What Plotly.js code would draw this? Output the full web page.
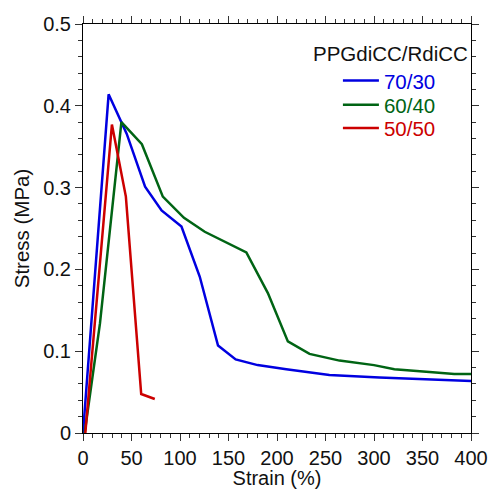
<!DOCTYPE html>
<html>
<head>
<meta charset="utf-8">
<script src="https://cdn.plot.ly/plotly-3.0.1.min.js"></script>
<style>html,body{margin:0;padding:0;background:#fff;}#chart{width:491px;height:489px;}</style>
</head>
<body>
<div id="chart"></div>
<script>
var seriesNames = ["70/30", "60/40", "50/50"];
var seriesColors = ["#0000e0", "#006414", "#cc0000"];
var legendTitle = "PPGdiCC/RdiCC";

var strain7030 = [0, 26.4, 45, 64, 81, 101.5, 120.4, 139.2, 157.4, 180, 209.6, 254, 305.6, 360.4, 401];
var stress7030 = [0, 0.414, 0.366, 0.301, 0.272, 0.2525, 0.191, 0.107, 0.090, 0.083, 0.078, 0.071, 0.068, 0.065, 0.0636];

var strain6040 = [1.7, 17.5, 39.6, 60.7, 82.3, 104.1, 125.5, 168.4, 190.6, 211.2, 233.5, 264.4, 300, 321, 360.4, 382.7, 401];
var stress6040 = [0, 0.134, 0.380, 0.353, 0.289, 0.263, 0.246, 0.2207, 0.171, 0.112, 0.0967, 0.0885, 0.083, 0.078, 0.0743, 0.0722, 0.072];

var strain5050 = [2.4, 29.8, 44.2, 60, 74];
var stress5050 = [0, 0.377, 0.289, 0.0477, 0.0416];

var xs = [strain7030, strain6040, strain5050];
var ys = [stress7030, stress6040, stress5050];
var legendIds = ["legend", "legend2", "legend3"];
var legendY = [0.8614, 0.802, 0.745];

var font = "Liberation Sans, Arial, sans-serif";

var traces = xs.map(function (x, i) {
  return {
    x: x, y: ys[i], type: "scatter", mode: "lines",
    name: '<span style="color:' + seriesColors[i] + '">' + seriesNames[i] + '</span>',
    line: {color: seriesColors[i], width: 2.5},
    legend: legendIds[i]
  };
});

var axisCommon = {
  showgrid: false, zeroline: false, showline: true, linecolor: "#000", linewidth: 1,
  mirror: "allticks", ticks: "outside", ticklen: 7, tickwidth: 1, tickcolor: "#333",
  tickfont: {family: font, size: 20, color: "#111"}
};

var layout = {
  width: 491, height: 489,
  margin: {l: 83, r: 20, t: 24, b: 56, pad: 0},
  paper_bgcolor: "#fff", plot_bgcolor: "#fff",
  showlegend: true,
  xaxis: Object.assign({}, axisCommon, {
    range: [0, 400], dtick: 50, tick0: 0, ticklabelstandoff: 0,
    minor: {dtick: 10, ticklen: 4, ticks: "outside", tickcolor: "#333"},
    title: {text: "Strain (%)", font: {family: font, size: 20, color: "#111"}, standoff: 0}
  }),
  yaxis: Object.assign({}, axisCommon, {
    range: [0, 0.5], dtick: 0.1, tick0: 0,
    minor: {dtick: 0.02, ticklen: 4, ticks: "outside", tickcolor: "#333"},
    title: {text: "Stress (MPa)", font: {family: font, size: 20.5, color: "#111"}, standoff: 8}
  }),
  annotations: [{
    text: legendTitle, xref: "paper", yref: "paper",
    x: 0.997, y: 0.928, xanchor: "right", yanchor: "middle", showarrow: false,
    font: {family: font, size: 20.5, color: "#111"}
  }]
};

legendIds.forEach(function (id, i) {
  layout[id] = {
    x: 0.657, y: legendY[i], xanchor: "left", yanchor: "middle",
    bgcolor: "rgba(0,0,0,0)", borderwidth: 0, itemwidth: 36,
    font: {family: font, size: 20.5, color: "#000"}
  };
});

Plotly.newPlot("chart", traces, layout, {displayModeBar: false, staticPlot: true});
</script>
</body>
</html>
